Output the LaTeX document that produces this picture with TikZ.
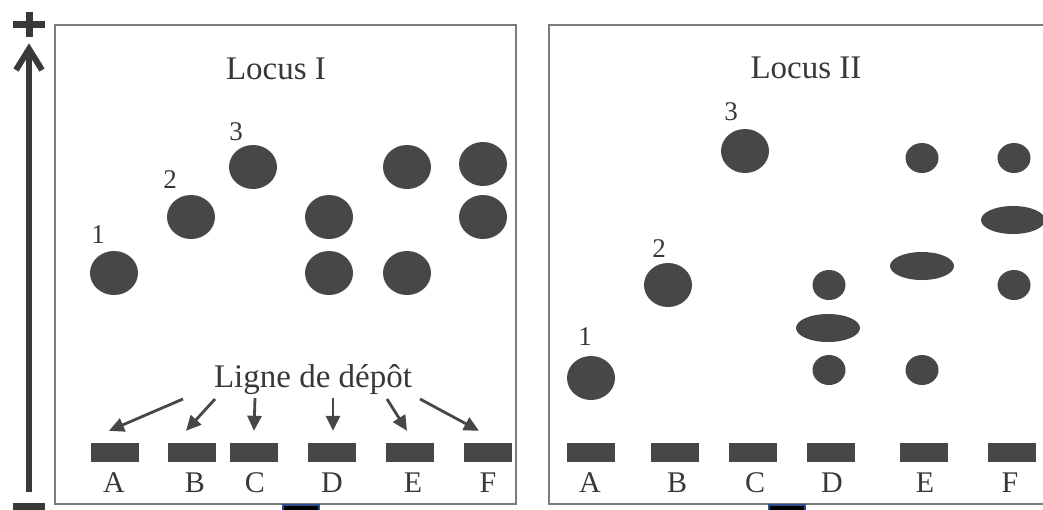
\documentclass[tikz,border=0pt]{standalone}
\usepackage{fontspec}
\setmainfont{Liberation Serif}
\usetikzlibrary{arrows.meta,shapes.geometric}
\definecolor{ink}{HTML}{474747}
\definecolor{txt}{HTML}{383838}
\definecolor{framegray}{HTML}{7A7A7A}
\definecolor{tabblue}{HTML}{2B4C8C}
\begin{document}
\begin{tikzpicture}[x=1pt,y=-1pt,
  dot/.style={ellipse, fill=ink, draw=none, inner sep=0pt, minimum width=48pt, minimum height=44pt},
  smalldot/.style={dot, minimum width=33pt, minimum height=30pt},
  flatdot/.style={dot, minimum width=64pt, minimum height=28pt},
  lane/.style={rectangle, fill=ink, inner sep=0pt, minimum width=48pt, minimum height=19pt},
  letter/.style={anchor=base, text=txt, inner sep=0pt, font=\fontsize{30}{30}\selectfont},
  num/.style={anchor=base, text=txt, inner sep=0pt, font=\fontsize{27}{27}\selectfont},
  title/.style={anchor=base, text=txt, inner sep=0pt, font=\fontsize{33}{33}\selectfont},
  panel/.style={draw=framegray, line width=2pt},
  ptr/.style={draw=ink, line width=2.8pt, -{Triangle[length=15pt,width=14pt]}},
  axis/.style={draw=ink!80!black, line width=6pt}
]
\useasboundingbox (0,0) rectangle (1043,509);

% vertical scale with + and - ends
\draw[axis] (29,492) -- (29,50);
\draw[axis, line join=miter] (16,70) -- (29,49) -- (42,70);
\draw[axis, line width=7pt] (29,12) -- (29,37);
\draw[axis, line width=7pt] (13,24.5) -- (45,24.5);
\draw[axis, line width=7pt] (13,506) -- (45,506);

% panel frames
\draw[panel] (55,25) rectangle (516,504);
\draw[panel] (1050,25) -- (549,25) -- (549,504) -- (1050,504);

% ---------------- Locus I ----------------
\node[title] (t1) at (276,79) {Locus I};

\node[dot] (l1) at (114,273) {};
\node[dot] (l2) at (191,217) {};
\node[dot] (l3) at (253,167) {};
\node[dot] (lD1) at (329,217) {};
\node[dot] (lD2) at (329,273) {};
\node[dot] (lE1) at (407,167) {};
\node[dot] (lE2) at (407,273) {};
\node[dot] (lF1) at (483,164) {};
\node[dot] (lF2) at (483,217) {};

\node[num] (n1) at (98,243) {1};
\node[num] (n2) at (170,188) {2};
\node[num] (n3) at (236,140) {3};

\node[title] (ligne) at (313,387) {Ligne de dépôt};

\node[lane] (rA) at (115,452.5) {};
\node[lane] (rB) at (192,452.5) {};
\node[lane] (rC) at (254,452.5) {};
\node[lane] (rD) at (332,452.5) {};
\node[lane] (rE) at (410,452.5) {};
\node[lane] (rF) at (488,452.5) {};

\node[letter] (xA) at (114,492) {A};
\node[letter] (xB) at (195,492) {B};
\node[letter] (xC) at (255,492) {C};
\node[letter] (xD) at (332,492) {D};
\node[letter] (xE) at (413,492) {E};
\node[letter] (xF) at (488,492) {F};

% deposit arrows
\coordinate (sA) at (183,399);
\coordinate (sB) at (215,399);
\coordinate (sC) at (255,398);
\coordinate (sD) at (333,398);
\coordinate (sE) at (387,399);
\coordinate (sF) at (420,399);
\coordinate (tA) at ([xshift=-6pt,yshift=12pt]rA.north);
\coordinate (tB) at ([xshift=-6pt,yshift=12pt]rB.north);
\coordinate (tC) at ([yshift=12pt]rC.north);
\coordinate (tD) at ([xshift=1pt,yshift=12pt]rD.north);
\coordinate (tE) at ([xshift=-3pt,yshift=12pt]rE.north);
\coordinate (tF) at ([xshift=-9pt,yshift=12pt]rF.north);
\foreach \k in {A,B,C,D,E,F} \draw[ptr] (s\k) -- (t\k);

% ---------------- Locus II ----------------
\node[title] (t2) at (806,78) {Locus II};

\node[dot] (m1) at (591,378) {};
\node[dot] (m2) at (668,285) {};
\node[dot] (m3) at (745,151) {};
\node[smalldot] (mD1) at (829,285) {};
\node[flatdot] (mD2) at (828,328) {};
\node[smalldot] (mD3) at (829,370) {};
\node[smalldot] (mE1) at (922,158) {};
\node[flatdot] (mE2) at (922,266) {};
\node[smalldot] (mE3) at (922,370) {};
\node[smalldot] (mF1) at (1014,158) {};
\node[flatdot] (mF2) at (1013,220) {};
\node[smalldot] (mF3) at (1014,285) {};

\node[num] (p1) at (585,345) {1};
\node[num] (p2) at (659,257) {2};
\node[num] (p3) at (731,120) {3};

\node[lane] (qA) at (590.5,452.5) {};
\node[lane] (qB) at (674.5,452.5) {};
\node[lane] (qC) at (752.5,452.5) {};
\node[lane] (qD) at (831,452.5) {};
\node[lane] (qE) at (923.5,452.5) {};
\node[lane] (qF) at (1012,452.5) {};

\node[letter] (yA) at (590,492) {A};
\node[letter] (yB) at (677,492) {B};
\node[letter] (yC) at (755,492) {C};
\node[letter] (yD) at (832,492) {D};
\node[letter] (yE) at (925,492) {E};
\node[letter] (yF) at (1010,492) {F};

% small tabs on the lower edge
\draw[fill=black, draw=tabblue, line width=1.5pt] (283,505) rectangle (319,511);
\draw[fill=black, draw=tabblue, line width=1.5pt] (769,505) rectangle (805,511);
\end{tikzpicture}
\end{document}
